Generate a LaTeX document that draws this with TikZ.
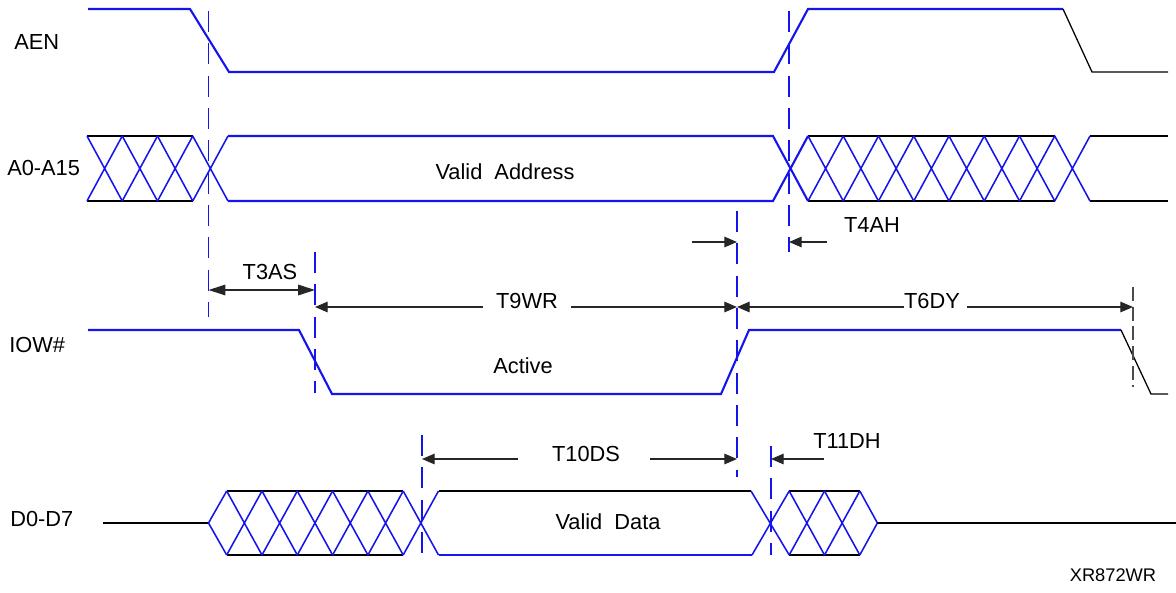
\documentclass[tikz,border=0pt]{standalone}
\usepackage{fontspec}
\setmainfont{Liberation Sans}
\usetikzlibrary{arrows.meta}

\definecolor{sigblue}{RGB}{20,20,235}
\tikzset{
  sig/.style={sigblue, line width=1.5pt},
  hatch/.style={sigblue, line width=1.1pt},
  rail/.style={black, line width=0.9pt},
  marker/.style={sigblue, line width=0.8pt, dash pattern=on 15pt off 8pt},
  dim/.style={black!85, line width=0.9pt, -{Triangle[length=9pt,width=7.5pt]}},
  lbl/.style={font=\fontsize{15.5}{18}\selectfont, inner sep=0pt},
}

\begin{document}
\begin{tikzpicture}[x=0.025cm, y=-0.025cm]
    \useasboundingbox (0,0) rectangle (1176,592);

    % Signal names
    \foreach \x/\y/\name/\txt in {14/42/aen/AEN, 7/168/addr/A0-A15, 9/345/iow/IOW\#, 10/519/data/D0-D7}
        \node[lbl, anchor=west] (\name) at (\x,\y) {\txt};

    % AEN
    \draw[sig] (88,9) -- (190,9) -- (229,72) -- (774,72) -- (808,9) -- (1063,9);
    \draw[rail] (1063,9) -- (1092,72) -- (1168,72);

    % A0-A15
    \draw[rail] (87,136) -- (192.75,136) (87,201) -- (192.75,201);
    \draw[rail] (808,136) -- (1054.75,136) (808,201) -- (1054.75,201);
    \draw[rail] (1090,136) -- (1168,136) (1090,201) -- (1168,201);
    \foreach \i in {0,...,2}
        \draw[hatch] ({87+35.25*\i},136) -- ({122.25+35.25*\i},201)
                     ({87+35.25*\i},201) -- ({122.25+35.25*\i},136);
    \foreach \i in {0,...,7}
        \draw[hatch] ({808+35.25*\i},136) -- ({843.25+35.25*\i},201)
                     ({808+35.25*\i},201) -- ({843.25+35.25*\i},136);
    \draw[hatch] (192.75,136) -- (228,201) (192.75,201) -- (228,136);
    \draw[sig] (228,201) -- (773,201) -- (808,136);
    \draw[sig] (228,136) -- (773,136) -- (808,201);
    \node[lbl] (validaddr) at (505,172) {Valid\ \ Address};

    % IOW#
    \draw[sig] (88,330) -- (299,330) -- (332,394) -- (721,394) -- (749,330) -- (1121,330);
    \draw[rail] (1121,330) -- (1151,394) -- (1168,394);
    \node[lbl] (active) at (523,366) {Active};

    % D0-D7
    \draw[rail, line width=1.3pt] (103,523) -- (208.5,523);
    \draw[rail] (226.7,491) -- (403.2,491) (226.7,555) -- (403.2,555);
    \draw[rail] (789.2,491) -- (859.8,491) (789.2,555) -- (859.8,555);
    \draw[hatch] (226.7,491) -- (208.5,523) -- (226.7,555);
    \foreach \i in {0,...,4}
        \draw[hatch] ({226.7+35.3*\i},491) -- ({262+35.3*\i},555)
                     ({226.7+35.3*\i},555) -- ({262+35.3*\i},491);
    \draw[hatch] (403.2,555) -- (438.5,491) (403.2,491) -- (438.5,555);
    \draw[rail] (438.5,491) -- (751,491);
    \draw[sig] (438.5,555) -- (752,555);
    \draw[hatch] (752,555) -- (789.2,491) (751,491) -- (789.2,555);
    \foreach \i in {0,1}
        \draw[hatch] ({789.2+35.3*\i},491) -- ({824.5+35.3*\i},555)
                     ({789.2+35.3*\i},555) -- ({824.5+35.3*\i},491);
    \draw[hatch] (859.8,491) -- (877.4,523) -- (859.8,555);
    \draw[rail, line width=1.3pt] (877.4,523) -- (1176,523);
    \node[lbl] (validdata) at (608,522) {Valid\ \ Data};

    % Timing markers
    \foreach \n/\x/\ya/\yb in {ma/208.5/11/317, mb/315/252/393, mc/737/211/477,
                               md/789/11/252, me/422/435/555, mf/771/446/555}
    {
        \coordinate (\n) at (\x,\ya);
        \draw[marker] (\n) -- (\x,\yb);
    }
    \coordinate (mg) at (1133,287);
    \draw[black!70, line width=0.9pt, dash pattern=on 10pt off 4pt] (mg) -- (1133,387);

    % Timing parameters
    \draw[dim, {Triangle[length=12pt,width=7.5pt]}-{Triangle[length=12pt,width=7.5pt]}]
        (ma |- 0,290) -- (mb |- 0,290);
    \node[lbl] (t3as) at (270,272) {T3AS};

    \node[lbl] (t9wr) at (527,301) {T9WR};
    \draw[dim] (483,307) -- (mb |- 0,307);
    \draw[dim] (571,307) -- (mc |- 0,307);

    \node[lbl] (t6dy) at (932,301) {T6DY};
    \draw[dim] (904,307) -- (mc |- 0,307);
    \draw[dim] (967,307) -- (mg |- 0,307);

    \node[lbl] (t4ah) at (872,225) {T4AH};
    \draw[dim] (692,242) -- (mc |- 0,242);
    \draw[dim] (827,242) -- (md |- 0,242);

    \node[lbl] (t10ds) at (586,454) {T10DS};
    \draw[dim] (518,459) -- (me |- 0,459);
    \draw[dim] (650,459) -- (mc |- 0,459);

    \node[lbl] (t11dh) at (847,441) {T11DH};
    \draw[dim] (824,459) -- (mf |- 0,459);

    \node[font=\fontsize{13}{15}\selectfont, inner sep=0pt] (xref) at (1113,575) {XR872WR};
\end{tikzpicture}
\end{document}
